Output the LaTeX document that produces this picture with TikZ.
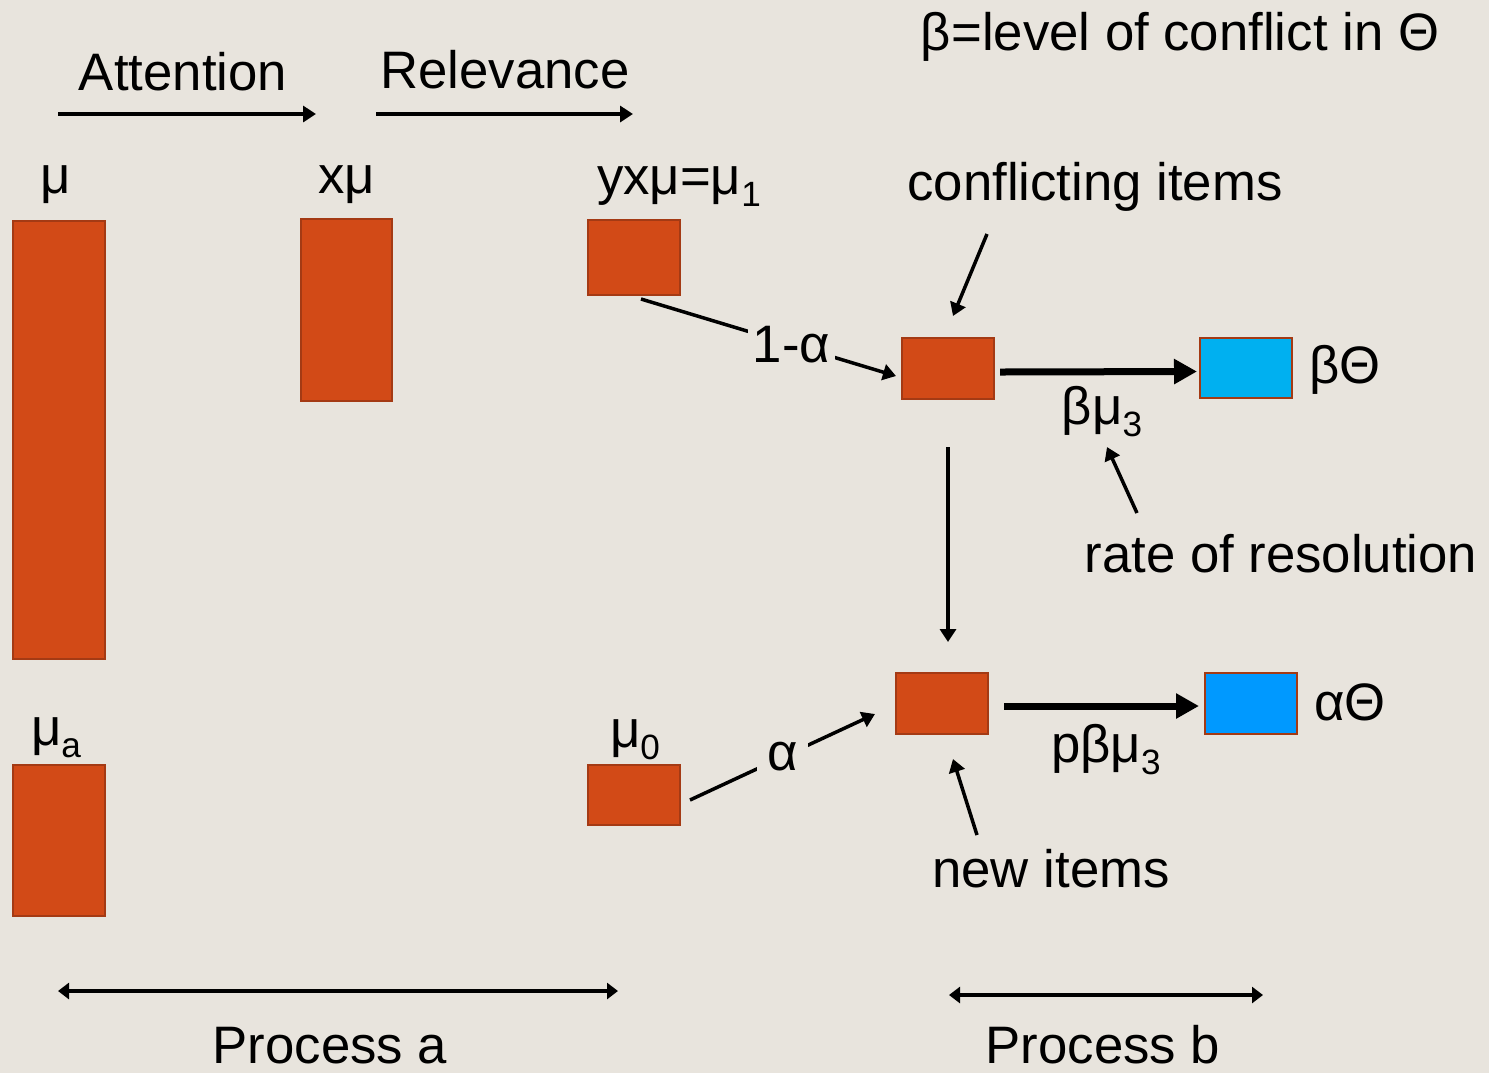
\documentclass[tikz,border=0pt]{standalone}
\usepackage{fontspec}
\setmainfont{Liberation Sans}
\usetikzlibrary{arrows.meta,positioning,calc}

\definecolor{paper}{HTML}{E8E4DD}
\definecolor{brick}{HTML}{D24A17}
\definecolor{brickline}{HTML}{A43A14}
\definecolor{skyblue}{HTML}{00B0F0}
\definecolor{deepblue}{HTML}{0099FF}

% index set low and small, as on the slide
\newcommand\lowidx[1]{\raisebox{-0.12cm}{\fontsize{10}{12}\selectfont #1}}

\tikzset{
  store/.style={draw=brickline, fill=brick, line width=0.02cm, inner sep=0pt, anchor=north west},
  lbl/.style={font=\fontsize{15}{18}\selectfont, inner sep=0pt, anchor=base},
  flow/.style={line width=0.035cm, -{Triangle[length=0.13cm,width=0.16cm]}},
  rate/.style={line width=0.07cm, -{Triangle[length=0.23cm,width=0.24cm]}},
  extent/.style={line width=0.035cm, {Triangle[length=0.11cm,width=0.16cm]}-{Triangle[length=0.11cm,width=0.16cm]}},
  gap/.style={fill=paper, inner sep=0.05cm, font=\fontsize{15}{18}\selectfont},
}

\begin{document}
\begin{tikzpicture}
    % Paper
    \fill[paper] (0,0) rectangle (14.89,-10.73);
    \useasboundingbox (0,0) rectangle (14.89,-10.73);

    % Stores of process a
    \node[store, minimum width=0.92cm, minimum height=4.38cm] (mu) at (0.12,-2.20) {};
    \node[store, minimum width=0.92cm, minimum height=1.51cm] (mua) at (0.12,-7.64) {};
    \node[store, minimum width=0.91cm, minimum height=1.82cm] (xmu) at (3.00,-2.18) {};
    \node[store, minimum width=0.92cm, minimum height=0.75cm] (muone) at (5.87,-2.19) {};
    \node[store, minimum width=0.92cm, minimum height=0.60cm] (muzero) at (5.87,-7.64) {};

    % Stores of process b
    \node[store, minimum width=0.92cm, minimum height=0.61cm] (conf) at (9.01,-3.37) {};
    \node[store, minimum width=0.92cm, minimum height=0.61cm] (new) at (8.95,-6.72) {};
    \node[store, fill=skyblue, minimum width=0.92cm, minimum height=0.60cm] (bt) at (11.99,-3.37) {};
    \node[store, fill=deepblue, minimum width=0.92cm, minimum height=0.61cm] (at) at (12.04,-6.72) {};

    % Labels
    \node[lbl] (tatt) at (1.83,-0.90) {Attention};
    \node[lbl] (trel) at (5.05,-0.88) {Relevance};
    \node[lbl] (tlevel) at (11.80,-0.50) {β=level of conflict in Θ};
    \node[lbl] (tmu) at (0.56,-1.93) {μ};
    \node[lbl] (txmu) at (3.47,-1.93) {xμ};
    \node[lbl] (tmuone) at (6.79,-1.94) {yxμ=μ\lowidx{1}};
    \node[lbl] (tconf) at (10.95,-2.00) {conflicting items};
    \node[lbl] (tbt) at (13.45,-3.83) {βΘ};
    \node[lbl] (tbmu) at (11.02,-4.24) {βμ\lowidx{3}};
    \node[lbl] (tres) at (12.81,-5.72) {rate of resolution};
    \node[lbl] (tmua) at (0.56,-7.45) {μ\lowidx{a}};
    \node[lbl] (tmuzero) at (6.35,-7.47) {μ\lowidx{0}};
    \node[lbl] (tpbmu) at (11.06,-7.62) {pβμ\lowidx{3}};
    \node[lbl] (tat) at (13.50,-7.20) {αΘ};
    \node[lbl] (tnew) at (10.51,-8.87) {new items};
    \node[lbl] (tpa) at (3.30,-10.63) {Process a};
    \node[lbl] (tpb) at (11.03,-10.63) {Process b};

    % Headings over process a
    \draw[flow] ([xshift=-1.25cm,yshift=-0.24cm]tatt.base) -- ([xshift=1.33cm,yshift=-0.24cm]tatt.base);
    \draw[flow] ([xshift=-1.29cm,yshift=-0.26cm]trel.base) -- ([xshift=1.28cm,yshift=-0.26cm]trel.base);

    % Split into process b
    \draw[flow] ([xshift=0.07cm,yshift=-0.03cm]muone.south) -- node[gap, pos=0.59] {1-α} ([xshift=-0.05cm,yshift=-0.075cm]conf.west);
    \draw[flow] ([xshift=0.09cm,yshift=-0.05cm]muzero.east) -- node[gap, inner sep=0.1cm, pos=0.5] {α} ([xshift=-0.2cm,yshift=-0.105cm]new.west);
    \draw[flow] ([yshift=-0.47cm]conf.south) -- ([yshift=0.30cm]conf.south |- new.north);

    % Resolution
    \draw[rate] ([xshift=0.05cm,yshift=-0.035cm]conf.east) -- ([xshift=-0.02cm,yshift=-0.035cm]bt.west);
    \draw[rate] ([xshift=0.15cm,yshift=-0.025cm]new.east) -- ([xshift=-0.05cm,yshift=-0.025cm]at.west);

    % Pointers
    \draw[flow] ([xshift=-1.08cm,yshift=-0.34cm]tconf.base) -- ([xshift=0.05cm,yshift=0.21cm]conf.north);
    \draw[flow] ([xshift=-1.44cm,yshift=0.59cm]tres.base) -- ([xshift=0.05cm,yshift=-0.23cm]tbmu.base);
    \draw[flow] ([xshift=-0.74cm,yshift=0.52cm]tnew.base) -- ([xshift=0.11cm,yshift=-0.24cm]new.south);

    % Extent of each process
    \draw[extent] ([xshift=-2.72cm,yshift=0.72cm]tpa.base) -- ([xshift=2.88cm,yshift=0.72cm]tpa.base);
    \draw[extent] ([xshift=-1.54cm,yshift=0.68cm]tpb.base) -- ([xshift=1.60cm,yshift=0.68cm]tpb.base);
\end{tikzpicture}
\end{document}
